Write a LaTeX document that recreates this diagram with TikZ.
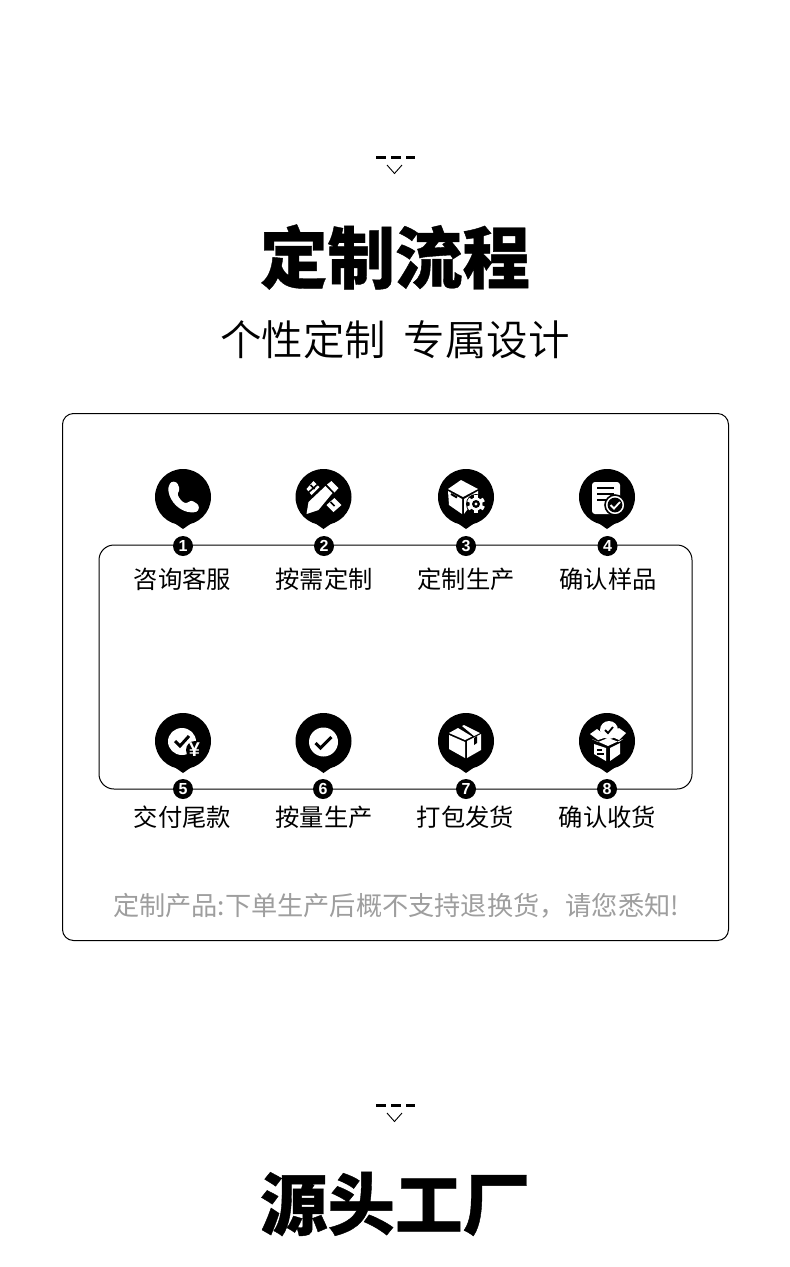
\documentclass[tikz,border=0pt]{standalone}
\usepackage{xcolor}
\usepackage{fontspec}
\usetikzlibrary{
  arrows.meta,
  positioning,
  calc,
  shapes.geometric
}
\newfontfamily\cjk[BoldFeatures={FakeBold=0.6}]{Noto Sans CJK SC}
\newfontfamily\cjklight[UprightFont=* DemiLight]{Noto Sans CJK SC}
\setmainfont{Liberation Sans}

\begin{document}
\begin{tikzpicture}[
      x=1pt, y=-1pt,
      every node/.style={inner sep=0pt, outer sep=0pt},
      pinhead/.style={circle, fill=black, minimum size=56pt},
      numdisc/.style={circle, fill=black, text=white, minimum size=20pt,
                      font=\fontsize{16}{16}\selectfont\bfseries},
      stepname/.style={font=\cjk\fontsize{24.3}{28}\selectfont},
      heading/.style={font=\cjk\bfseries\fontsize{67.5}{72}\selectfont},
      framebox/.style={draw=black, line width=1pt, rounded corners=11pt},
      ink/.style={fill=white, draw=black, line width=1pt, line join=round},
      tick/.style={draw=black, line width=3pt, line join=miter},
      dashbar/.style={draw=black, line width=3pt},
      chevron/.style={draw=black, line width=0.9pt}
  ]
      \useasboundingbox (0,0) rectangle (790,1267);
      \fill[white] (0,0) rectangle (790,1267);
      \def\pinmark#1{\fill ($(#1.south)+(-10,-3)$) -- ($(#1.south)+(0,4)$) -- ($(#1.south)+(10,-3)$) -- cycle;}

      % --- HEADER ---
      \coordinate (d1) at (376,157); \coordinate (d2) at (386,157);
      \coordinate (d3) at (391,157); \coordinate (d4) at (401,157);
      \coordinate (d5) at (406,157); \coordinate (d6) at (415,157);
      \draw[dashbar] (d1)--(d2); \draw[dashbar] (d3)--(d4); \draw[dashbar] (d5)--(d6);
      \draw[chevron] (387,165) -- (394.5,173.5) -- (402,165);
      \node[heading] (title1) at (395,257) {定制流程};
      \node[font=\cjklight\fontsize{41.5}{46}\selectfont] (sub1) at (395,340) {个性定制\hspace{0.2em} 专属设计};

      % --- FRAMES ---
      \node[framebox, minimum width=666pt, minimum height=527pt] (outer) at (395.5,677) {};
      \node[framebox, rounded corners=15pt, minimum width=593pt, minimum height=244pt] (inner) at (395.5,667) {};

      % --- PINS ---
      \node[pinhead] (p1) at (183,497) {}; \pinmark{p1}
      \node[pinhead] (p2) at (323.5,497) {}; \pinmark{p2}
      \node[pinhead] (p3) at (466,497) {}; \pinmark{p3}
      \node[pinhead] (p4) at (607,497) {}; \pinmark{p4}
      \node[pinhead] (p5) at (183,741) {}; \pinmark{p5}
      \node[pinhead] (p6) at (323.5,741) {}; \pinmark{p6}
      \node[pinhead] (p7) at (466,741) {}; \pinmark{p7}
      \node[pinhead] (p8) at (607,741) {}; \pinmark{p8}

      % --- NUMBERS ---
      \node[numdisc] (n1) at (183,546) {1};
      \node[numdisc] (n2) at (324,546) {2};
      \node[numdisc] (n3) at (466,546) {3};
      \node[numdisc] (n4) at (607.5,546) {4};
      \node[numdisc] (n5) at (183,789) {5};
      \node[numdisc] (n6) at (323,789) {6};
      \node[numdisc] (n7) at (466,789) {7};
      \node[numdisc] (n8) at (607,789) {8};

      % --- LABELS ---
      \node[stepname] (t1) at (182.5,579) {咨询客服};
      \node[stepname] (t2) at (324,579) {按需定制};
      \node[stepname] (t3) at (466,579) {定制生产};
      \node[stepname] (t4) at (608,579) {确认样品};
      \node[stepname] (t5) at (182.5,817) {交付尾款};
      \node[stepname] (t6) at (324,817) {按量生产};
      \node[stepname] (t7) at (465.5,817) {打包发货};
      \node[stepname] (t8) at (607.5,817) {确认收货};

      % --- ICON 1: PHONE ---
      \begin{scope}[shift={(183,497)}]
          \fill[white, rounded corners=2.5pt] (-15,-9) .. controls (-13,6) and (-2,15) .. (11,15.5) -- (15.5,14) -- (16,8) -- (8,3) -- (4,6.5) .. controls (-1,5) and (-4,1) .. (-6,-4) -- (-3,-7) -- (-6,-15) -- (-12,-15.5) -- cycle;
      \end{scope}

      % --- ICON 2: PENCIL AND RULER ---
      \begin{scope}[shift={(323.5,497)}]
          \fill[white] (-17,-8) -- (-10,-16) -- (-4,-10) -- (-12,-2) -- cycle;
          \fill[white] (3,8) -- (11,1) -- (18,8) -- (10,15) -- cycle;
          \draw[black, line width=1.6pt] (-13,-12) -- (-9,-8);
          \draw[black, line width=1.6pt] (7,5) -- (11,9);
          \draw[black, line width=1.6pt] (-18,-2) -- (-2,-16);
          \fill[white] (-17,17) -- (-15,5) -- (2,-11) -- (9,-4) -- (-5,13) -- cycle;
          \fill[white] (3.5,-12.5) -- (8,-16) -- (15,-9) -- (11,-4.5) -- cycle;
      \end{scope}

      % --- ICON 3: BOX AND GEAR ---
      \begin{scope}[shift={(466,497)}]
          \fill[white] (-5,-17) -- (12,-8) -- (-3,0) -- (-18,-8) -- cycle;
          \fill[white] (-18,-6) -- (-4,2) -- (-4,17) -- (-17,8) -- cycle;
          \fill[white] (-2,2) -- (12,-6) -- (12,-2) -- (-2,17) -- cycle;
          \draw[black, line width=2pt] (-15,-3) -- (-9,0.5);
          \fill[black] (10,7) circle (10);
          \foreach \a in {0,60,...,300}
              \fill[white, rotate around={\a:(10,7)}] (8,-2) rectangle (12,1);
          \fill[white] (10,7) circle (6.5);
          \fill[black] (10,7) circle (4);
          \fill[white] (10,7) circle (1.6);
      \end{scope}

      % --- ICON 4: SHEET AND CHECK ---
      \begin{scope}[shift={(607,497)}]
          \fill[white, rounded corners=3pt] (-15,-15) rectangle (13,17);
          \draw[black, line width=1.8pt] (-10,-9) -- (7,-9);
          \draw[black, line width=1.8pt] (-10,-3) -- (7,-3);
          \draw[black, line width=1.8pt] (-10,3) -- (-1,3);
          \filldraw[ink, line width=1.6pt] (8,8) circle (10);
          \fill[black] (8,8) circle (7.4);
          \draw[white, line width=1.8pt] (3.5,8) -- (7,11.5) -- (13,5);
      \end{scope}

      % --- ICON 5: PAID CHECK ---
      \begin{scope}[shift={(183,741)}]
          \fill[white] (-1,0.5) ellipse (14 and 13.5);
          \draw[tick] (-8,0) -- (-3,5) -- (6,-5);
          \fill[black] (12,9) circle (9);
          \node[text=white, font=\bfseries\fontsize{20}{20}\selectfont] (yen) at (11.5,9) {¥};
      \end{scope}

      % --- ICON 6: CHECK ---
      \begin{scope}[shift={(323.5,741)}]
          \fill[white] (0,1) circle (14.5);
          \draw[tick] (-8,2) -- (-3,7) -- (8,-4);
      \end{scope}

      % --- ICON 7: CLOSED BOX ---
      \begin{scope}[shift={(466,741)}]
          \fill[white] (-17,-8) -- (-8,-13) -- (6,-4.5) -- (-1,-1) -- cycle;
          \fill[white] (-4,-15) -- (-2,-16) -- (14,-8) -- (8,-5) -- cycle;
          \fill[white] (-17,-6) -- (-1,1) -- (-1,17) -- (-17,8) -- cycle;
          \fill[white] (1,0) -- (15,-7) -- (15,9) -- (1,17) -- cycle;
          \fill[black] (8,-3) -- (11,-5) -- (11,2) -- (8,4) -- cycle;
      \end{scope}

      % --- ICON 8: OPEN BOX ---
      \begin{scope}[shift={(607,741)}]
          \fill[white] (2,-11) circle (9);
          \draw[black, line width=1.8pt] (-2,-11) -- (1,-8) -- (6,-14);
          \fill[white] (-17,-7) -- (-10,-12) -- (0,-4) -- (-9,-1) -- cycle;
          \fill[white] (19,-8) -- (12,-13) -- (3,-5) -- (12,-1) -- cycle;
          \fill[white] (-15,-2) -- (-9,1) -- (1,-3) -- (12,1) -- (16,-2) -- (1,5) -- cycle;
          \fill[white] (-13,3) -- (-1,7) -- (-1,20) -- (-13,13) -- cycle;
          \fill[white] (3,7) -- (13,2) -- (13,13) -- (3,20) -- cycle;
          \fill[black] (-10,8) rectangle (-5,10);
          \fill[black] (-10,12) rectangle (-3,14);
      \end{scope}

      % --- NOTE ---
      \node[font=\cjk\fontsize{26.2}{30}\selectfont, text=black!38] (note) at (396,906) {定制产品:下单生产后概不支持退换货，请您悉知!};

      % --- SECOND HEADER ---
      \coordinate (d7) at (376,1105); \coordinate (d8) at (386,1105);
      \coordinate (d9) at (391,1105); \coordinate (d10) at (401,1105);
      \coordinate (d11) at (406,1105); \coordinate (d12) at (415,1105);
      \draw[dashbar] (d7)--(d8); \draw[dashbar] (d9)--(d10); \draw[dashbar] (d11)--(d12);
      \draw[chevron] (387,1113) -- (394.5,1121.5) -- (402,1113);
      \node[heading] (title2) at (395,1204) {源头工厂};
  \end{tikzpicture}
\end{document}
